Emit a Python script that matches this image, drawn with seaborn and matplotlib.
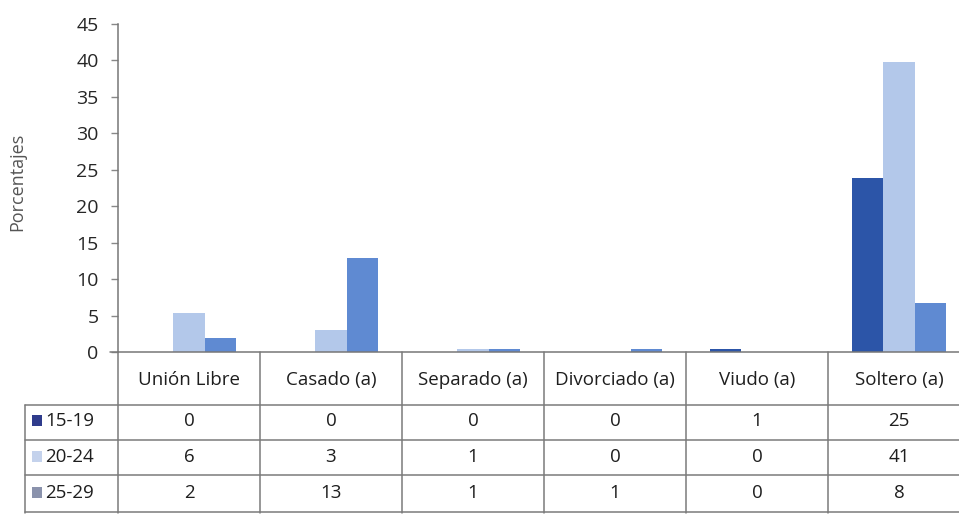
import numpy as np
import pandas as pd
import seaborn as sns
import matplotlib
matplotlib.use("Agg")
import matplotlib.pyplot as plt
from matplotlib.transforms import blended_transform_factory
from matplotlib.lines import Line2D
from matplotlib.patches import Rectangle

categories = ["Unión Libre", "Casado (a)", "Separado (a)", "Divorciado (a)", "Viudo (a)", "Soltero (a)"]
groups = ["15-19", "20-24", "25-29"]
# bar heights as drawn
bar_15_19 = [0, 0, 0, 0, 0.4, 23.9]
bar_20_24 = [5.4, 3.0, 0.4, 0, 0, 39.8]
bar_25_29 = [1.9, 12.9, 0.4, 0.4, 0, 6.7]
# values printed in the data table
table_15_19 = ["0", "0", "0", "0", "1", "25"]
table_20_24 = ["6", "3", "1", "0", "0", "41"]
table_25_29 = ["2", "13", "1", "1", "0", "8"]
y_ticks = [0, 5, 10, 15, 20, 25, 30, 35, 40, 45]

colors = ["#2c55a8", "#b3c8ea", "#5f8ad2"]
legend_colors = ["#2f3c8c", "#c4d2ec", "#8a92ac"]

sns.set_style("white")
plt.rcParams["font.family"] = ["Open Sans", "DejaVu Sans"]

df = pd.DataFrame({
    "Estado": categories * 3,
    "Edad": np.repeat(groups, len(categories)),
    "Porcentaje": bar_15_19 + bar_20_24 + bar_25_29,
})

W, H = 959, 514
fig = plt.figure(figsize=(W / 100, H / 100), dpi=100)
ax = fig.add_axes([118 / W, 1 - 352 / H, (970 - 118) / W, (352 - 24) / H])

sns.barplot(data=df, x="Estado", y="Porcentaje", hue="Edad", order=categories,
            hue_order=groups, palette=colors, width=0.655, saturation=1,
            linewidth=0, edgecolor="none", legend=False, ax=ax)

ax.set_xlim(-0.5, 5.5)
ax.set_ylim(0, 45)
ax.set_yticks(y_ticks)
ax.set_yticklabels([str(t) for t in y_ticks], fontsize=14, color="#262626")
ax.set_xticks([])
ax.set_xlabel("")
ax.set_ylabel("Porcentajes", fontsize=13, color="#555555")
ax.yaxis.set_label_coords(-0.108, 0.52)
ax.tick_params(axis="y", length=5, width=1, color="#888888", direction="out", pad=9, left=True)
for s in ["top", "right"]:
    ax.spines[s].set_visible(False)
ax.spines["left"].set_color("#777777")
ax.spines["bottom"].set_color("#777777")
ax.spines["left"].set_linewidth(1.1)
ax.spines["bottom"].set_linewidth(1.1)

# data table below the axis
tr = blended_transform_factory(ax.transData, fig.transFigure)
fy = lambda py: 1 - py / H
line_kw = dict(color="#7a7a7a", linewidth=1.1, transform=tr, clip_on=False)
x_left = -0.5 - 93 / 142

# baseline extension to left
fig.add_artist(Line2D([-0.5 - 8 / 142, -0.5], [fy(352), fy(352)], **line_kw))
# vertical lines
for k in range(6):
    fig.add_artist(Line2D([k - 0.5, k - 0.5], [fy(352), fy(513)], **line_kw))
fig.add_artist(Line2D([x_left, x_left], [fy(405), fy(513)], **line_kw))
# horizontal lines
for py in [405, 440, 475, 512]:
    fig.add_artist(Line2D([x_left, 5.6], [fy(py), fy(py)], **line_kw))

# header
for i, c in enumerate(categories):
    fig.text(i, fy(380), c, transform=tr, ha="center", va="center", fontsize=13.5, color="#1e1e1e")

rows = [table_15_19, table_20_24, table_25_29]
row_y = [421, 457, 493]
for r, (vals, py) in enumerate(zip(rows, row_y)):
    for i, v in enumerate(vals):
        fig.text(i, fy(py), v, transform=tr, ha="center", va="center", fontsize=13.5, color="#1e1e1e")
    fig.add_artist(Rectangle((32 / W, fy(py + 5)), 10 / W, 11 / H, transform=fig.transFigure,
                             facecolor=legend_colors[r], edgecolor="none"))
    fig.text(45 / W, fy(py), groups[r], ha="left", va="center", fontsize=13.5, color="#1e1e1e")

fig.savefig("out.png", dpi=100, facecolor="white")
